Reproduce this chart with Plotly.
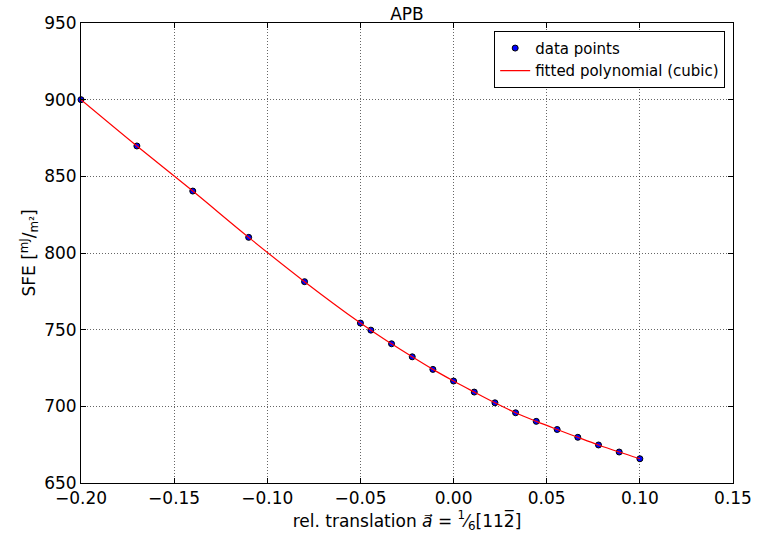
import plotly.graph_objects as go

# data
x_vals = [-0.2, -0.17, -0.14, -0.11, -0.08, -0.05, -0.0444, -0.0333, -0.0222, -0.0111,
          0.0, 0.0111, 0.0222, 0.0333, 0.0444, 0.0556, 0.0667, 0.0778, 0.0889, 0.1]
sfe_vals = [900.0, 869.8, 840.4, 810.2, 781.3, 754.3, 749.7, 740.8, 732.3, 724.1,
            716.5, 709.3, 702.3, 695.8, 690.2, 684.9, 679.8, 674.8, 670.2, 665.8]

x_ticks = [-0.20, -0.15, -0.10, -0.05, 0.00, 0.05, 0.10, 0.15]
y_ticks = [650, 700, 750, 800, 850, 900, 950]

FONT = "DejaVu Sans"

fig = go.Figure()
fig.add_trace(go.Scatter(
    x=x_vals, y=sfe_vals, mode="markers", name="data points",
    marker=dict(color="#0000ff", size=6, line=dict(color="black", width=1)),
    cliponaxis=False,
))
fig.add_trace(go.Scatter(
    x=x_vals, y=sfe_vals, mode="lines", name="fitted polynomial (cubic)",
    line=dict(color="#ff0000", width=1.2, shape="spline"),
))

axis_common = dict(
    showline=True, linecolor="black", linewidth=1, mirror="ticks",
    ticks="inside", ticklen=5, tickcolor="black", tickwidth=1,
    showgrid=True, gridcolor="rgba(0,0,0,0.6)", griddash="1px,2px", gridwidth=1,
    zeroline=False, tickfont=dict(family=FONT, size=17, color="black"),
)

fig.update_layout(
    width=764, height=541,
    margin=dict(l=81, r=25, t=23, b=58),
    paper_bgcolor="white", plot_bgcolor="white",
    font=dict(family=FONT, color="black"),
    title=dict(text="APB", x=0.5, xanchor="center", xref="paper",
               y=1, yref="paper", yanchor="bottom", pad=dict(b=3),
               font=dict(family=FONT, size=17, color="black")),
    xaxis=dict(range=[-0.2, 0.15], tickvals=x_ticks, tickformat=".2f",
               title=dict(text="rel. translation <i>a⃗</i> = <sup>1</sup>⁄<sub>6</sub>[11<span>2̅</span>]",
                          font=dict(family=FONT, size=17), standoff=6),
               **axis_common),
    yaxis=dict(range=[650, 950], tickvals=y_ticks,
               title=dict(text="SFE [<sup>mJ</sup>/<sub>m²</sub>]",
                          font=dict(family=FONT, size=17), standoff=4),
               **axis_common),
    legend=dict(x=0.988, y=0.983, xanchor="right", yanchor="top",
                bgcolor="white", bordercolor="black", borderwidth=1,
                font=dict(family=FONT, size=15, color="black"),
                tracegroupgap=0, itemwidth=30),
    showlegend=True,
)

fig.write_html("out.html")
